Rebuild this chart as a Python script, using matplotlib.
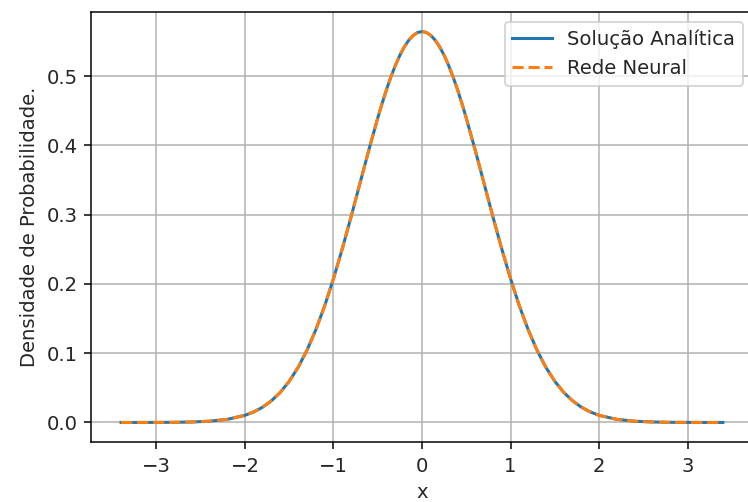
import matplotlib
matplotlib.use("Agg")
import matplotlib.pyplot as plt

# Probability density of the ground state: analytic solution vs. network output
x_vals = [-3.4, -3.2, -3.0, -2.8, -2.6, -2.4, -2.2, -2.0, -1.9, -1.8, -1.7, -1.6,
          -1.5, -1.4, -1.3, -1.2, -1.1, -1.0, -0.9, -0.8, -0.7, -0.6, -0.5, -0.45,
          -0.4, -0.35, -0.3, -0.25, -0.2, -0.15, -0.1, -0.05, 0.0, 0.05, 0.1, 0.15,
          0.2, 0.25, 0.3, 0.35, 0.4, 0.45, 0.5, 0.6, 0.7, 0.8, 0.9, 1.0,
          1.1, 1.2, 1.3, 1.4, 1.5, 1.6, 1.7, 1.8, 1.9, 2.0, 2.2, 2.4, 2.6, 2.8,
          3.0, 3.2, 3.4]

analitica = [0.0000, 0.0000, 0.0001, 0.0002, 0.0007, 0.0018, 0.0045, 0.0103,
             0.0153, 0.0221, 0.0314, 0.0436, 0.0595, 0.0795, 0.1041, 0.1337,
             0.1682, 0.2076, 0.2510, 0.2975, 0.3456, 0.3936, 0.4394, 0.4608,
             0.4808, 0.4991, 0.5156, 0.5300, 0.5421, 0.5516, 0.5586, 0.5628,
             0.5642, 0.5628, 0.5586, 0.5516, 0.5421, 0.5300, 0.5156, 0.4991,
             0.4808, 0.4608, 0.4394, 0.3936, 0.3456, 0.2975, 0.2510, 0.2076,
             0.1682, 0.1337, 0.1041, 0.0795, 0.0595, 0.0436, 0.0314, 0.0221,
             0.0153, 0.0103, 0.0045, 0.0018, 0.0007, 0.0002, 0.0001, 0.0000,
             0.0000]

rede_neural = [0.0000, 0.0000, 0.0001, 0.0002, 0.0007, 0.0018, 0.0045, 0.0103,
               0.0153, 0.0221, 0.0314, 0.0436, 0.0595, 0.0795, 0.1041, 0.1337,
               0.1682, 0.2076, 0.2510, 0.2975, 0.3456, 0.3936, 0.4394, 0.4608,
               0.4808, 0.4991, 0.5156, 0.5300, 0.5421, 0.5516, 0.5586, 0.5628,
               0.5642, 0.5628, 0.5586, 0.5516, 0.5421, 0.5300, 0.5156, 0.4991,
               0.4808, 0.4608, 0.4394, 0.3936, 0.3456, 0.2975, 0.2510, 0.2076,
               0.1682, 0.1337, 0.1041, 0.0795, 0.0595, 0.0436, 0.0314, 0.0221,
               0.0153, 0.0103, 0.0045, 0.0018, 0.0007, 0.0002, 0.0001, 0.0000,
               0.0000]

plt.rcParams["font.size"] = 10.4
plt.rcParams["lines.linewidth"] = 1.6
plt.rcParams["text.color"] = "#262626"
plt.rcParams["xtick.labelcolor"] = "#262626"
plt.rcParams["ytick.labelcolor"] = "#262626"
plt.rcParams["axes.labelcolor"] = "#262626"

DPI = 136
fig = plt.figure(figsize=(748 / DPI, 502 / DPI), dpi=DPI)
ax = fig.add_axes([91 / 748, 60 / 502, 662 / 748, 430 / 502])

ax.plot(x_vals, analitica, color="#1f77b4", linestyle="-", label="Solução Analítica")
ax.plot(x_vals, rede_neural, color="#ff7f0e", linestyle="--", label="Rede Neural")

ax.grid(True)
ax.tick_params(axis="x", pad=4.5)
ax.set_xlabel("x", labelpad=3.5)
ax.set_ylabel("Densidade de Probabilidade.")
ax.legend(loc="upper right")

fig.savefig("out.png", dpi=DPI)
